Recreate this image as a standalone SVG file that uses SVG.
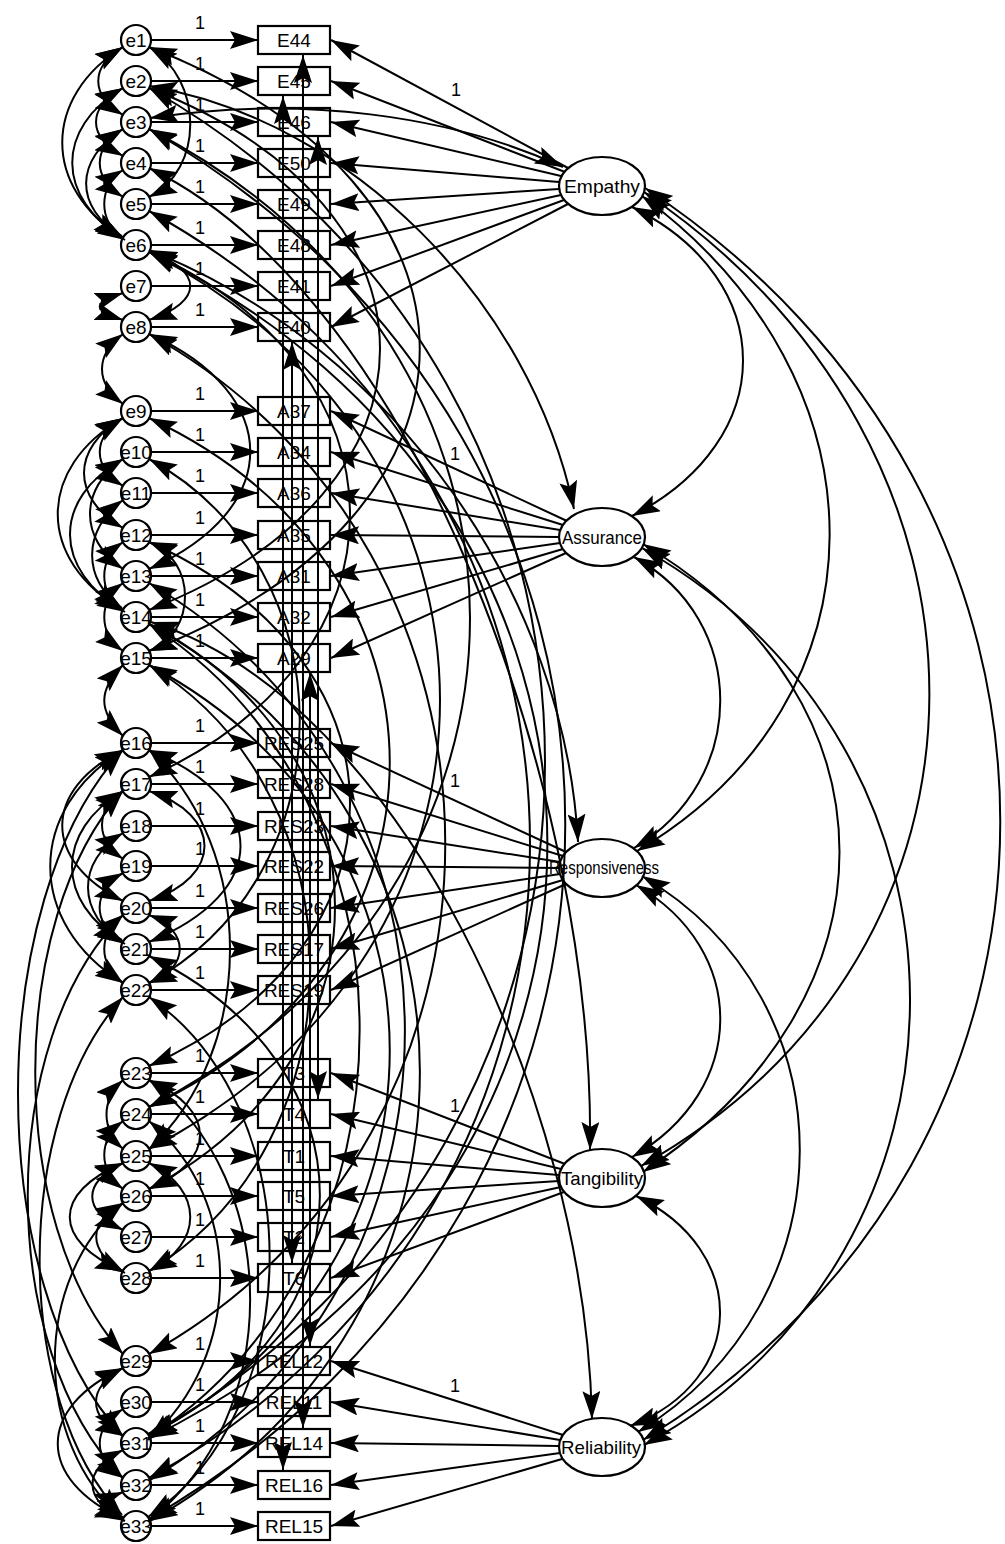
<svg xmlns="http://www.w3.org/2000/svg" width="1005" height="1544" viewBox="0 0 1005 1544">
<style>
.n rect,.n circle,.n ellipse{fill:#fff;stroke:#000;stroke-width:2.2}
.t{font-family:"Liberation Sans",Arial,sans-serif;font-size:19px;fill:#000;text-anchor:middle}
.one{font-family:"Liberation Sans",Arial,sans-serif;font-size:18px;fill:#000;text-anchor:middle}
#conn path{fill:none;stroke:#000;stroke-width:2}
#conn .p{marker-end:url(#ah)}
#conn .c{marker-start:url(#ah);marker-end:url(#ah)}
</style>
<defs>
<marker id="ah" viewBox="0 0 28 18" refX="28" refY="9" markerWidth="28" markerHeight="18" markerUnits="userSpaceOnUse" orient="auto-start-reverse"><path d="M0,0 L28,9 L0,18 L5,9 Z" fill="#000"/></marker>
</defs>
<rect width="1005" height="1544" fill="#fff"/>

<g id="nodes">
<g id="e1" class="n"><circle cx="136" cy="40" r="15"/><text class="t" x="136" y="47">e1</text></g>
<g id="e2" class="n"><circle cx="136" cy="81" r="15"/><text class="t" x="136" y="88">e2</text></g>
<g id="e3" class="n"><circle cx="136" cy="122" r="15"/><text class="t" x="136" y="129">e3</text></g>
<g id="e4" class="n"><circle cx="136" cy="163" r="15"/><text class="t" x="136" y="170">e4</text></g>
<g id="e5" class="n"><circle cx="136" cy="204" r="15"/><text class="t" x="136" y="211">e5</text></g>
<g id="e6" class="n"><circle cx="136" cy="245" r="15"/><text class="t" x="136" y="252">e6</text></g>
<g id="e7" class="n"><circle cx="136" cy="286" r="15"/><text class="t" x="136" y="293">e7</text></g>
<g id="e8" class="n"><circle cx="136" cy="327" r="15"/><text class="t" x="136" y="334">e8</text></g>
<g id="e9" class="n"><circle cx="136" cy="411" r="15"/><text class="t" x="136" y="418">e9</text></g>
<g id="e10" class="n"><circle cx="136" cy="452" r="15"/><text class="t" x="136" y="459">e10</text></g>
<g id="e11" class="n"><circle cx="136" cy="493" r="15"/><text class="t" x="136" y="500">e11</text></g>
<g id="e12" class="n"><circle cx="136" cy="535" r="15"/><text class="t" x="136" y="542">e12</text></g>
<g id="e13" class="n"><circle cx="136" cy="576" r="15"/><text class="t" x="136" y="583">e13</text></g>
<g id="e14" class="n"><circle cx="136" cy="617" r="15"/><text class="t" x="136" y="624">e14</text></g>
<g id="e15" class="n"><circle cx="136" cy="658" r="15"/><text class="t" x="136" y="665">e15</text></g>
<g id="e16" class="n"><circle cx="136" cy="743" r="15"/><text class="t" x="136" y="750">e16</text></g>
<g id="e17" class="n"><circle cx="136" cy="784" r="15"/><text class="t" x="136" y="791">e17</text></g>
<g id="e18" class="n"><circle cx="136" cy="826" r="15"/><text class="t" x="136" y="833">e18</text></g>
<g id="e19" class="n"><circle cx="136" cy="866" r="15"/><text class="t" x="136" y="873">e19</text></g>
<g id="e20" class="n"><circle cx="136" cy="908" r="15"/><text class="t" x="136" y="915">e20</text></g>
<g id="e21" class="n"><circle cx="136" cy="949" r="15"/><text class="t" x="136" y="956">e21</text></g>
<g id="e22" class="n"><circle cx="136" cy="990" r="15"/><text class="t" x="136" y="997">e22</text></g>
<g id="e23" class="n"><circle cx="136" cy="1073" r="15"/><text class="t" x="136" y="1080">e23</text></g>
<g id="e24" class="n"><circle cx="136" cy="1114" r="15"/><text class="t" x="136" y="1121">e24</text></g>
<g id="e25" class="n"><circle cx="136" cy="1156" r="15"/><text class="t" x="136" y="1163">e25</text></g>
<g id="e26" class="n"><circle cx="136" cy="1196" r="15"/><text class="t" x="136" y="1203">e26</text></g>
<g id="e27" class="n"><circle cx="136" cy="1237" r="15"/><text class="t" x="136" y="1244">e27</text></g>
<g id="e28" class="n"><circle cx="136" cy="1278" r="15"/><text class="t" x="136" y="1285">e28</text></g>
<g id="e29" class="n"><circle cx="136" cy="1361" r="15"/><text class="t" x="136" y="1368">e29</text></g>
<g id="e30" class="n"><circle cx="136" cy="1402" r="15"/><text class="t" x="136" y="1409">e30</text></g>
<g id="e31" class="n"><circle cx="136" cy="1443" r="15"/><text class="t" x="136" y="1450">e31</text></g>
<g id="e32" class="n"><circle cx="136" cy="1485" r="15"/><text class="t" x="136" y="1492">e32</text></g>
<g id="e33" class="n"><circle cx="136" cy="1526" r="15"/><text class="t" x="136" y="1533">e33</text></g>

<g id="E44" class="n"><rect x="258" y="26" width="72" height="28"/><text class="t" x="294" y="47">E44</text></g>
<g id="E45" class="n"><rect x="258" y="67" width="72" height="28"/><text class="t" x="294" y="88">E45</text></g>
<g id="E46" class="n"><rect x="258" y="108" width="72" height="28"/><text class="t" x="294" y="129">E46</text></g>
<g id="E50" class="n"><rect x="258" y="149" width="72" height="28"/><text class="t" x="294" y="170">E50</text></g>
<g id="E49" class="n"><rect x="258" y="190" width="72" height="28"/><text class="t" x="294" y="211">E49</text></g>
<g id="E48" class="n"><rect x="258" y="231" width="72" height="28"/><text class="t" x="294" y="252">E48</text></g>
<g id="E41" class="n"><rect x="258" y="272" width="72" height="28"/><text class="t" x="294" y="293">E41</text></g>
<g id="E40" class="n"><rect x="258" y="313" width="72" height="28"/><text class="t" x="294" y="334">E40</text></g>
<g id="A37" class="n"><rect x="258" y="397" width="72" height="28"/><text class="t" x="294" y="418">A37</text></g>
<g id="A34" class="n"><rect x="258" y="438" width="72" height="28"/><text class="t" x="294" y="459">A34</text></g>
<g id="A36" class="n"><rect x="258" y="479" width="72" height="28"/><text class="t" x="294" y="500">A36</text></g>
<g id="A35" class="n"><rect x="258" y="521" width="72" height="28"/><text class="t" x="294" y="542">A35</text></g>
<g id="A31" class="n"><rect x="258" y="562" width="72" height="28"/><text class="t" x="294" y="583">A31</text></g>
<g id="A32" class="n"><rect x="258" y="603" width="72" height="28"/><text class="t" x="294" y="624">A32</text></g>
<g id="A29" class="n"><rect x="258" y="644" width="72" height="28"/><text class="t" x="294" y="665">A29</text></g>
<g id="RES25" class="n"><rect x="258" y="729" width="72" height="28"/><text class="t" x="294" y="750">RES25</text></g>
<g id="RES28" class="n"><rect x="258" y="770" width="72" height="28"/><text class="t" x="294" y="791">RES28</text></g>
<g id="RES23" class="n"><rect x="258" y="812" width="72" height="28"/><text class="t" x="294" y="833">RES23</text></g>
<g id="RES22" class="n"><rect x="258" y="852" width="72" height="28"/><text class="t" x="294" y="873">RES22</text></g>
<g id="RES26" class="n"><rect x="258" y="894" width="72" height="28"/><text class="t" x="294" y="915">RES26</text></g>
<g id="RES17" class="n"><rect x="258" y="935" width="72" height="28"/><text class="t" x="294" y="956">RES17</text></g>
<g id="RES19" class="n"><rect x="258" y="976" width="72" height="28"/><text class="t" x="294" y="997">RES19</text></g>
<g id="T3" class="n"><rect x="258" y="1059" width="72" height="28"/><text class="t" x="294" y="1080">T3</text></g>
<g id="T4" class="n"><rect x="258" y="1100" width="72" height="28"/><text class="t" x="294" y="1121">T4</text></g>
<g id="T1" class="n"><rect x="258" y="1142" width="72" height="28"/><text class="t" x="294" y="1163">T1</text></g>
<g id="T5" class="n"><rect x="258" y="1182" width="72" height="28"/><text class="t" x="294" y="1203">T5</text></g>
<g id="T2" class="n"><rect x="258" y="1223" width="72" height="28"/><text class="t" x="294" y="1244">T2</text></g>
<g id="T6" class="n"><rect x="258" y="1264" width="72" height="28"/><text class="t" x="294" y="1285">T6</text></g>
<g id="REL12" class="n"><rect x="258" y="1347" width="72" height="28"/><text class="t" x="294" y="1368">REL12</text></g>
<g id="REL11" class="n"><rect x="258" y="1388" width="72" height="28"/><text class="t" x="294" y="1409">REL11</text></g>
<g id="REL14" class="n"><rect x="258" y="1429" width="72" height="28"/><text class="t" x="294" y="1450">REL14</text></g>
<g id="REL16" class="n"><rect x="258" y="1471" width="72" height="28"/><text class="t" x="294" y="1492">REL16</text></g>
<g id="REL15" class="n"><rect x="258" y="1512" width="72" height="28"/><text class="t" x="294" y="1533">REL15</text></g>

<g id="Empathy" class="n"><ellipse cx="602" cy="186" rx="43" ry="29"/><text class="t" x="602" y="193" textLength="76" lengthAdjust="spacingAndGlyphs">Empathy</text></g>
<g id="Assurance" class="n"><ellipse cx="602" cy="537" rx="43" ry="29"/><text class="t" x="602" y="544" textLength="80" lengthAdjust="spacingAndGlyphs">Assurance</text></g>
<g id="Responsiveness" class="n"><ellipse cx="602" cy="868" rx="43" ry="29"/><text class="t" x="604" y="874" font-size="17" textLength="110" lengthAdjust="spacingAndGlyphs">Responsiveness</text></g>
<g id="Tangibility" class="n"><ellipse cx="602" cy="1178" rx="43" ry="29"/><text class="t" x="602" y="1185" textLength="82" lengthAdjust="spacingAndGlyphs">Tangibility</text></g>
<g id="Reliability" class="n"><ellipse cx="602" cy="1447" rx="43" ry="29"/><text class="t" x="601" y="1454" textLength="80" lengthAdjust="spacingAndGlyphs">Reliability</text></g>
</g>

<g id="conn">
<path class="p" d="M151,40H258"/><path class="p" d="M151,81H258"/><path class="p" d="M151,122H258"/><path class="p" d="M151,163H258"/>
<path class="p" d="M151,204H258"/><path class="p" d="M151,245H258"/><path class="p" d="M151,286H258"/><path class="p" d="M151,327H258"/>
<path class="p" d="M151,411H258"/><path class="p" d="M151,452H258"/><path class="p" d="M151,493H258"/><path class="p" d="M151,535H258"/>
<path class="p" d="M151,576H258"/><path class="p" d="M151,617H258"/><path class="p" d="M151,658H258"/>
<path class="p" d="M151,743H258"/><path class="p" d="M151,784H258"/><path class="p" d="M151,826H258"/><path class="p" d="M151,866H258"/>
<path class="p" d="M151,908H258"/><path class="p" d="M151,949H258"/><path class="p" d="M151,990H258"/>
<path class="p" d="M151,1073H258"/><path class="p" d="M151,1114H258"/><path class="p" d="M151,1156H258"/><path class="p" d="M151,1196H258"/>
<path class="p" d="M151,1237H258"/><path class="p" d="M151,1278H258"/>
<path class="p" d="M151,1361H258"/><path class="p" d="M151,1402H258"/><path class="p" d="M151,1443H258"/><path class="p" d="M151,1485H258"/><path class="p" d="M151,1526H258"/>

<path class="p" d="M568,168L331,40"/><path class="p" d="M565,172L331,81"/><path class="p" d="M561,176L331,122"/><path class="p" d="M559,182L331,163"/>
<path class="p" d="M559,189L331,204"/><path class="p" d="M561,195L331,245"/><path class="p" d="M564,200L331,286"/><path class="p" d="M568,204L331,327"/>
<path class="p" d="M567,521L331,411"/><path class="p" d="M563,525L331,452"/><path class="p" d="M560,530L331,493"/><path class="p" d="M559,537L331,535"/>
<path class="p" d="M560,543L331,576"/><path class="p" d="M563,549L331,617"/><path class="p" d="M566,553L331,658"/>
<path class="p" d="M566,852L331,743"/><path class="p" d="M563,856L331,784"/><path class="p" d="M560,862L331,826"/><path class="p" d="M559,868L331,866"/>
<path class="p" d="M560,874L331,908"/><path class="p" d="M563,880L331,949"/><path class="p" d="M566,884L331,990"/>
<path class="p" d="M565,1164L331,1073"/><path class="p" d="M561,1169L331,1114"/><path class="p" d="M559,1175L331,1156"/><path class="p" d="M559,1181L331,1196"/>
<path class="p" d="M561,1187L331,1237"/><path class="p" d="M564,1192L331,1278"/>
<path class="p" d="M563,1435L331,1361"/><path class="p" d="M560,1440L331,1402"/><path class="p" d="M559,1446L331,1443"/><path class="p" d="M560,1453L331,1485"/><path class="p" d="M562,1459L331,1526"/>

<path class="c" d="M632,207 C780,280 780,440 632,516"/>
<path class="c" d="M642,196 C893,380 893,700 637,851"/>
<path class="c" d="M644,192 C1025,450 1025,950 641,1166"/>
<path class="c" d="M645,188 C1119,500 1119,1150 643,1440"/>
<path class="c" d="M634,557 C749,620 749,780 634,848"/>
<path class="c" d="M643,544 C905,700 905,1000 643,1172"/>
<path class="c" d="M642,548 C999,750 999,1250 644,1445"/>
<path class="c" d="M636,885 C749,950 749,1090 632,1157"/>
<path class="c" d="M642,876 C853,1000 853,1300 638,1432"/>
<path class="c" d="M636,1196 C749,1250 749,1380 630,1426"/>

<path class="c" d="M150,118 C300,95 450,115 563,167"/>
<path class="c" d="M149,86 C350,120 530,300 574,509"/>
<path class="c" d="M149,250 C400,350 565,600 578,842"/>
<path class="c" d="M149,168 C420,300 595,800 590,1150"/>
<path class="c" d="M151,622 C400,700 585,1100 592,1419"/>

<path class="c" d="M283,96L283,1470"/>
<path class="c" d="M303,55L303,1428"/>
<path class="c" d="M310,673L310,1346"/>
<path class="c" d="M292,342L292,1263"/>
<path class="c" d="M318,137L318,1099"/>

<path class="c" d="M123,47 C42,97 42,188 123,238"/>
<path class="c" d="M123,88 C55,128 55,198 125,240"/>
<path class="c" d="M123,47 C90,67 90,95 123,115"/>
<path class="c" d="M123,88 C87,108 87,136 123,156"/>
<path class="c" d="M123,129 C74,159 74,208 122,236"/>
<path class="c" d="M123,129 C92,149 92,177 123,197"/>
<path class="c" d="M123,170 C98,185 98,223 123,238"/>
<path class="c" d="M123,293 C92,303 92,310 123,320"/>
<path class="c" d="M123,334 C95,355 95,383 123,404"/>
<path class="c" d="M123,418 C36,468 36,560 123,610"/>
<path class="c" d="M123,459 C52,499 52,570 125,612"/>
<path class="c" d="M123,418 C71,448 71,498 123,528"/>
<path class="c" d="M123,459 C79,489 79,539 123,569"/>
<path class="c" d="M123,500 C82,530 82,580 122,608"/>
<path class="c" d="M123,542 C98,560 98,592 123,610"/>
<path class="c" d="M123,418 C92,438 92,466 123,486"/>
<path class="c" d="M123,583 C98,601 98,633 123,651"/>
<path class="c" d="M123,665 C98,690 98,711 123,736"/>
<path class="c" d="M123,750 C42,790 42,861 123,901"/>
<path class="c" d="M123,791 C55,831 55,902 123,942"/>
<path class="c" d="M123,833 C76,861 76,914 125,944"/>
<path class="c" d="M123,873 C92,890 92,925 122,940"/>
<path class="c" d="M123,750 C26,810 26,923 123,983"/>
<path class="c" d="M123,915 C98,935 98,963 123,983"/>
<path class="c" d="M123,791 C95,811 95,839 123,859"/>
<path class="c" d="M123,1163 C52,1193 52,1241 123,1271"/>
<path class="c" d="M123,1203 C87,1223 87,1251 125,1273"/>
<path class="c" d="M123,1163 C82,1183 82,1210 123,1230"/>
<path class="c" d="M123,1121 C98,1140 98,1170 123,1189"/>
<path class="c" d="M123,1080 C101,1100 101,1129 123,1149"/>
<path class="c" d="M123,1368 C36,1408 36,1479 123,1519"/>
<path class="c" d="M123,1450 C82,1470 82,1499 125,1521"/>
<path class="c" d="M123,1368 C87,1388 87,1416 123,1436"/>
<path class="c" d="M123,1492 C103,1500 103,1511 123,1517"/>
<path class="c" d="M123,1409 C92,1429 92,1458 123,1478"/>
<path class="c" d="M123,750 C-17,900 -17,1286 123,1436"/>
<path class="c" d="M123,791 C6,920 6,1224 123,1354"/>
<path class="c" d="M123,997 C12,1120 12,1400 122,1515"/>
<path class="c" d="M123,915 C-4,1040 -4,1350 123,1478"/>
<path class="c" d="M123,1203 C32,1280 32,1440 124,1521"/>

<path class="c" d="M149,47 C204,80 204,170 149,197"/>
<path class="c" d="M149,252 C204,270 204,302 149,320"/>
<path class="c" d="M149,334 C284,394 284,509 149,569"/>
<path class="c" d="M149,542 C197,560 197,633 149,651"/>
<path class="c" d="M149,750 C271,800 271,892 149,942"/>
<path class="c" d="M149,791 C223,815 223,877 149,901"/>
<path class="c" d="M149,915 C190,930 190,968 149,983"/>
<path class="c" d="M149,1163 C204,1190 204,1244 149,1271"/>
<path class="c" d="M149,1080 C217,1110 217,1160 149,1189"/>

<path class="c" d="M149,88 C677,388 677,1136 149,1436"/>
<path class="c" d="M149,129 C704,449 704,1199 149,1519"/>
<path class="c" d="M149,252 C680,512 680,1176 150,1438"/>
<path class="c" d="M149,211 C657,491 657,1198 149,1478"/>
<path class="c" d="M149,129 C577,349 577,887 149,1107"/>
<path class="c" d="M149,252 C537,452 537,949 149,1149"/>
<path class="c" d="M149,624 C510,824 510,1319 150,1521"/>
<path class="c" d="M149,665 C470,835 470,1266 149,1436"/>
<path class="c" d="M149,583 C490,783 490,1278 150,1480"/>
<path class="c" d="M149,624 C397,754 397,1059 149,1189"/>
<path class="c" d="M149,665 C364,795 364,1141 149,1271"/>
<path class="c" d="M149,542 C417,662 417,946 149,1066"/>
<path class="c" d="M149,334 C544,554 544,1134 149,1354"/>
<path class="c" d="M149,252 C417,372 417,657 149,777"/>
<path class="c" d="M149,88 C457,208 457,490 149,610"/>
<path class="c" d="M149,418 C470,568 470,957 149,1107"/>
<path class="c" d="M149,459 C350,569 350,873 149,983"/>
<path class="c" d="M149,956 C377,1066 377,1326 148,1434"/>
<path class="c" d="M149,997 C310,1107 310,1409 148,1517"/>
<path class="c" d="M149,47 C510,187 510,511 149,651"/>
<path class="c" d="M149,624 C430,804 430,1256 148,1438"/>
<path class="c" d="M149,1080 C284,1180 284,1419 148,1521"/>
<path class="c" d="M149,1121 C244,1200 244,1356 148,1440"/>
<path class="c" d="M149,750 C257,850 257,1049 149,1149"/>
</g>

<g id="labels">
<text class="one" x="200" y="29">1</text><text class="one" x="200" y="70">1</text><text class="one" x="200" y="111">1</text><text class="one" x="200" y="152">1</text>
<text class="one" x="200" y="193">1</text><text class="one" x="200" y="234">1</text><text class="one" x="200" y="275">1</text><text class="one" x="200" y="316">1</text>
<text class="one" x="200" y="400">1</text><text class="one" x="200" y="441">1</text><text class="one" x="200" y="482">1</text><text class="one" x="200" y="524">1</text>
<text class="one" x="200" y="565">1</text><text class="one" x="200" y="606">1</text><text class="one" x="200" y="647">1</text>
<text class="one" x="200" y="732">1</text><text class="one" x="200" y="773">1</text><text class="one" x="200" y="815">1</text><text class="one" x="200" y="855">1</text>
<text class="one" x="200" y="897">1</text><text class="one" x="200" y="938">1</text><text class="one" x="200" y="979">1</text>
<text class="one" x="200" y="1062">1</text><text class="one" x="200" y="1103">1</text><text class="one" x="200" y="1145">1</text><text class="one" x="200" y="1185">1</text>
<text class="one" x="200" y="1226">1</text><text class="one" x="200" y="1267">1</text>
<text class="one" x="200" y="1350">1</text><text class="one" x="200" y="1391">1</text><text class="one" x="200" y="1432">1</text><text class="one" x="200" y="1474">1</text><text class="one" x="200" y="1515">1</text>
<text class="one" x="456" y="96">1</text>
<text class="one" x="455" y="460">1</text>
<text class="one" x="455" y="787">1</text>
<text class="one" x="455" y="1112">1</text>
<text class="one" x="455" y="1392">1</text>
</g>
</svg>
